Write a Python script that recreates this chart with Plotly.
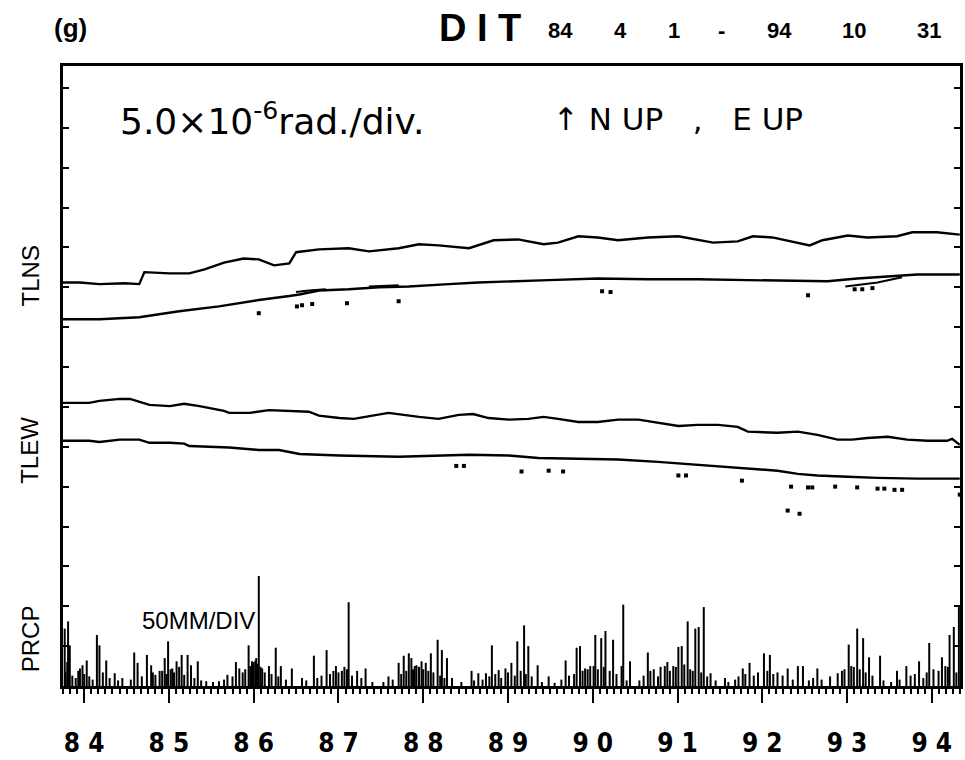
import plotly.graph_objects as go

# ---------------- data (decimal year, tilt in micro-radian, precipitation in mm) -------------
NS1_T = [1984.25, 1984.45, 1984.68, 1984.98, 1985.15, 1985.21, 1985.51, 1985.74, 1985.92, 1986.15,
         1986.38, 1986.56, 1986.74, 1986.92, 1987.00, 1987.27, 1987.62, 1987.86, 1988.21, 1988.45,
         1988.68, 1989.04, 1989.33, 1989.62, 1989.92, 1990.09, 1990.33, 1990.56, 1990.80, 1991.15,
         1991.51, 1991.74, 1991.92, 1992.21, 1992.39, 1992.62, 1992.92, 1993.06, 1993.21, 1993.51,
         1993.74, 1994.09, 1994.27, 1994.56, 1994.83]
NS1_V = [40.6, 40.6, 40.4, 40.5, 40.4, 41.9, 41.75, 41.75, 42.25, 43.1,
         43.6, 43.5, 42.75, 43.0, 44.4, 44.75, 44.9, 44.5, 44.9, 45.4,
         45.25, 44.9, 45.9, 46.0, 45.4, 45.6, 46.4, 46.25, 45.9, 46.25,
         46.4, 46.0, 45.6, 45.75, 46.4, 46.25, 45.6, 45.25, 45.9, 46.5,
         46.25, 46.4, 46.9, 46.9, 46.6]

NS2_T = [1984.25, 1984.68, 1985.15, 1985.62, 1986.09, 1986.56, 1986.92, 1987.04, 1987.27, 1987.62,
         1987.98, 1988.33, 1988.80, 1989.15, 1989.98, 1990.56, 1991.15, 1991.74, 1992.33, 1992.92,
         1993.27, 1993.62, 1994.09, 1994.33, 1994.83]
NS2_V = [36.0, 36.0, 36.25, 37.0, 37.6, 38.4, 38.9, 39.1, 39.6, 39.75,
         40.0, 40.1, 40.4, 40.6, 40.9, 41.1, 41.0, 41.0, 40.9, 40.75,
         40.75, 41.1, 41.4, 41.6, 41.6]

# short offset branches of the NS lower trace
NS2B_T = [1987.00, 1987.15, 1987.35, None, 1987.86, 1988.21, None, 1993.48, 1993.86, 1994.15]
NS2B_V = [39.4, 39.6, 39.75, None, 40.1, 40.25, None, 40.1, 40.6, 41.25]

NS_DOT_T = [1986.56, 1987.01, 1987.07, 1987.19, 1987.60, 1988.21, 1990.61, 1990.71, 1993.04,
            1993.59, 1993.68, 1993.80]
NS_DOT_V = [36.75, 37.6, 37.75, 37.9, 38.0, 38.25, 39.5, 39.4, 39.0,
            39.75, 39.75, 39.9]

EW1_T = [1984.25, 1984.56, 1984.68, 1984.92, 1985.04, 1985.15, 1985.27, 1985.51, 1985.68, 1985.86,
         1986.15, 1986.21, 1986.45, 1986.68, 1986.92, 1987.15, 1987.27, 1987.51, 1987.68, 1987.98,
         1988.09, 1988.45, 1988.68, 1988.92, 1989.09, 1989.27, 1989.51, 1989.74, 1989.92, 1990.09,
         1990.33, 1990.56, 1990.80, 1991.04, 1991.27, 1991.51, 1991.74, 1991.98, 1992.21, 1992.33,
         1992.68, 1992.92, 1993.15, 1993.39, 1993.56, 1993.74, 1993.98, 1994.21, 1994.45, 1994.68,
         1994.74, 1994.83]
EW1_V = [25.5, 25.5, 25.75, 26.0, 26.0, 25.6, 25.25, 25.1, 25.4, 25.1,
         24.5, 24.25, 24.25, 24.6, 24.5, 24.4, 23.9, 23.6, 23.5, 24.1,
         24.25, 23.75, 23.5, 24.0, 24.1, 23.6, 23.4, 23.5, 23.75, 23.5,
         23.1, 23.1, 23.4, 23.4, 23.0, 22.6, 22.75, 22.75, 22.5, 21.9,
         21.75, 21.9, 21.5, 20.9, 20.9, 21.1, 21.25, 20.9, 20.75, 20.75,
         21.0, 20.25]

EW2_T = [1984.25, 1984.56, 1984.68, 1984.92, 1985.15, 1985.27, 1985.51, 1985.68, 1985.74, 1985.98,
         1986.21, 1986.56, 1986.80, 1987.04, 1987.27, 1987.51, 1988.21, 1988.68, 1989.04, 1989.51,
         1989.86, 1990.33, 1990.80, 1991.27, 1991.74, 1992.21, 1992.68, 1992.92, 1993.15, 1993.51,
         1993.86, 1994.33, 1994.83]
EW2_V = [20.75, 20.75, 20.6, 20.9, 20.9, 20.5, 20.5, 20.4, 20.1, 20.0,
         19.9, 19.6, 19.6, 19.1, 19.0, 18.9, 18.75, 18.9, 19.0, 18.9,
         18.6, 18.5, 18.4, 18.1, 17.75, 17.4, 17.0, 16.6, 16.4, 16.25,
         16.1, 16.0, 16.0]

EW_DOT_T = [1988.89, 1988.98, 1989.66, 1989.98, 1990.15, 1991.51, 1991.60, 1992.26, 1992.84,
            1993.04, 1993.09, 1993.36, 1993.62, 1993.86, 1993.94, 1994.06, 1994.15, 1992.80,
            1992.94, 1994.83]
EW_DOT_V = [17.6, 17.6, 16.9, 17.0, 16.9, 16.4, 16.4, 15.75, 15.0,
            14.9, 14.9, 15.0, 14.9, 14.75, 14.75, 14.6, 14.6, 12.0,
            11.6, 14.0]

PRCP_T = [1984.27, 1984.31, 1984.33, 1984.45, 1984.48, 1984.53, 1984.65, 1984.68, 1984.76, 1984.86,
          1984.95, 1985.09, 1985.13, 1985.24, 1985.29, 1985.39, 1985.45, 1985.49, 1985.54, 1985.59,
          1985.65, 1985.72, 1985.76, 1985.84, 1985.94, 1986.09, 1986.19, 1986.29, 1986.33, 1986.44,
          1986.48, 1986.53, 1986.56, 1986.60, 1986.68, 1986.76, 1986.82, 1986.95, 1987.07, 1987.21,
          1987.36, 1987.47, 1987.54, 1987.62, 1987.72, 1987.82, 1988.09, 1988.21, 1988.27, 1988.33,
          1988.36, 1988.42, 1988.48, 1988.53, 1988.59, 1988.67, 1988.72, 1988.78, 1988.84, 1989.07,
          1989.15, 1989.24, 1989.31, 1989.39, 1989.47, 1989.54, 1989.61, 1989.69, 1989.74, 1989.85,
          1989.98, 1990.18, 1990.31, 1990.35, 1990.41, 1990.51, 1990.53, 1990.60, 1990.65, 1990.74,
          1990.84, 1990.86, 1990.94, 1991.15, 1991.27, 1991.41, 1991.51, 1991.55, 1991.62, 1991.71,
          1991.75, 1991.81, 1991.89, 1992.06, 1992.27, 1992.35, 1992.52, 1992.59, 1992.80, 1992.92,
          1992.98, 1993.15, 1993.39, 1993.52, 1993.62, 1993.69, 1993.76, 1993.89, 1994.09, 1994.20,
          1994.35, 1994.47, 1994.62, 1994.71, 1994.76, 1994.82]
PRCP_MM = [72, 81, 51, 22, 26, 32, 64, 51, 32, 16,
           10, 42, 29, 39, 26, 19, 35, 56, 22, 31,
           39, 39, 26, 31, 6, 6, 14, 30, 22, 51,
           31, 35, 138, 22, 25, 48, 25, 22, 10, 38,
           45, 25, 19, 105, 19, 22, 12, 29, 38, 41,
           35, 26, 31, 29, 41, 58, 45, 35, 10, 19,
           16, 16, 51, 20, 22, 29, 56, 76, 50, 26,
           12, 32, 48, 50, 22, 25, 64, 60, 69, 58,
           25, 102, 31, 42, 12, 19, 49, 50, 81, 72,
           74, 99, 16, 10, 22, 29, 41, 39, 22, 25,
           25, 22, 16, 52, 72, 60, 36, 38, 19, 25,
           31, 54, 36, 64, 74, 99]

# smaller daily amounts forming the dense base of the record
PRCP2_T = [1984.28, 1984.30, 1984.36, 1984.40, 1984.43, 1984.50, 1984.56, 1984.60, 1984.72, 1984.80, 1984.90,
           1985.05, 1985.18, 1985.31, 1985.34, 1985.42, 1985.47, 1985.52, 1985.56, 1985.62, 1985.68, 1985.80, 1985.88,
           1986.02, 1986.15, 1986.25, 1986.37, 1986.40, 1986.46, 1986.50, 1986.52, 1986.55, 1986.58, 1986.63, 1986.71,
           1986.79, 1986.88,
           1987.12, 1987.25, 1987.30, 1987.40, 1987.44, 1987.50, 1987.57, 1987.60, 1987.66, 1987.77, 1987.90,
           1988.03, 1988.14, 1988.24, 1988.30, 1988.38, 1988.40, 1988.45, 1988.50, 1988.56, 1988.62, 1988.70,
           1988.75, 1988.95,
           1989.10, 1989.20, 1989.28, 1989.35, 1989.42, 1989.50, 1989.58, 1989.65, 1989.71, 1989.78, 1989.90,
           1990.05, 1990.13, 1990.22, 1990.28, 1990.38, 1990.44, 1990.47, 1990.56, 1990.63, 1990.70, 1990.78, 1990.90,
           1991.05, 1991.10, 1991.18, 1991.22, 1991.30, 1991.35, 1991.38, 1991.45, 1991.48, 1991.58, 1991.65, 1991.68,
           1991.78, 1991.85, 1991.95,
           1992.10, 1992.18, 1992.22, 1992.30, 1992.40, 1992.45, 1992.56, 1992.63, 1992.68, 1992.74, 1992.86,
           1993.05, 1993.10, 1993.20, 1993.30, 1993.44, 1993.47, 1993.55, 1993.58, 1993.65, 1993.72, 1993.80, 1993.93,
           1994.02, 1994.12, 1994.25, 1994.30, 1994.40, 1994.44, 1994.52, 1994.58, 1994.66, 1994.69, 1994.79]
PRCP2_MM = [18, 30, 13, 10, 19, 15, 12, 8, 17, 10, 7,
            8, 12, 17, 14, 19, 15, 21, 17, 24, 14, 10, 7,
            5, 8, 12, 17, 21, 25, 30, 32, 28, 24, 17, 15,
            12, 8,
            7, 10, 13, 15, 19, 17, 24, 21, 13, 10, 5,
            5, 8, 15, 19, 21, 25, 24, 21, 19, 17, 13,
            10, 5,
            7, 8, 12, 15, 10, 17, 13, 19, 15, 12, 5,
            4, 8, 13, 15, 19, 21, 25, 21, 24, 19, 15, 7,
            7, 13, 19, 21, 24, 25, 30, 25, 24, 27, 21, 19,
            17, 12, 7,
            5, 8, 12, 15, 13, 17, 19, 15, 17, 13, 8,
            7, 10, 8, 12, 19, 21, 25, 24, 21, 17, 13, 7,
            5, 8, 13, 15, 10, 17, 21, 19, 25, 24, 17]

YEAR_TICKS = list(range(1985, 1995))
LABEL_POS = [1984.5, 1985.5, 1986.5, 1987.5, 1988.5, 1989.5, 1990.5, 1991.5, 1992.5, 1993.5, 1994.5]
LABEL_TXT = ["8 4", "8 5", "8 6", "8 7", "8 8", "8 9", "9 0", "9 1", "9 2", "9 3", "9 4"]
HEADER_TOKENS = ["84", "4", "1", "-", "94", "10", "31"]

T_START, T_END = 1984.25, 1994.833
TILT_RANGE = [-10, 67.75]      # micro-radian (5 per division)
PRCP_RANGE = [0, 777.5]        # mm (50 per division)

# ---------------- figure -----------------
fig = go.Figure()
INK = "#000000"

def add_line(t, v, w=2.4):
    fig.add_trace(go.Scatter(x=t, y=v, mode="lines", line=dict(color=INK, width=w),
                             hoverinfo="skip", showlegend=False, connectgaps=False))

add_line(NS1_T, NS1_V)
add_line(NS2_T, NS2_V)
add_line(NS2B_T, NS2B_V, 2.0)
add_line(EW1_T, EW1_V)
add_line(EW2_T, EW2_V)

fig.add_trace(go.Scatter(x=NS_DOT_T + EW_DOT_T, y=NS_DOT_V + EW_DOT_V, mode="markers",
                         marker=dict(color=INK, size=4, symbol="square"),
                         hoverinfo="skip", showlegend=False))

px, py = [], []
for t, m in zip(PRCP_T + PRCP2_T, PRCP_MM + PRCP2_MM):
    px += [t, t, None]
    py += [0, m, None]
fig.add_trace(go.Scatter(x=px, y=py, mode="lines", line=dict(color=INK, width=2),
                         yaxis="y2", hoverinfo="skip", showlegend=False))

LABEL_FONT = dict(family="Liberation Sans Narrow, DejaVu Sans Condensed, Liberation Sans, Arial",
                  size=26, color=INK, weight="bold")

fig.update_layout(
    width=965, height=760, autosize=False,
    margin=dict(l=63, r=2, t=66, b=72, pad=0),
    paper_bgcolor="white", plot_bgcolor="white",
    showlegend=False,
    xaxis=dict(range=[T_START, T_END], showgrid=False, zeroline=False,
               showline=True, linewidth=2.5, linecolor=INK, mirror=True,
               tickmode="array", tickvals=LABEL_POS, ticktext=LABEL_TXT,
               ticks="outside", ticklen=14, tickwidth=2, tickcolor=INK,
               tickfont=LABEL_FONT, ticklabelstandoff=18,
               minor=dict(ticks="outside", ticklen=5, tickwidth=1.5, tickcolor=INK,
                          dtick=1 / 12, tick0=1985)),
    xaxis2=dict(range=[T_START, T_END], overlaying="x", side="top", anchor="y",
                showgrid=False, zeroline=False, showline=False, showticklabels=False,
                tickmode="array", tickvals=YEAR_TICKS,
                ticks="inside", ticklen=18, tickwidth=2, tickcolor=INK,
                minor=dict(ticks="inside", ticklen=5, tickwidth=1.5, tickcolor=INK,
                           dtick=1 / 12, tick0=1985)),
    xaxis3=dict(range=[T_START, T_END], overlaying="x", side="bottom", anchor="y",
                showgrid=False, zeroline=False, showline=False, showticklabels=False,
                tickmode="array", tickvals=YEAR_TICKS,
                ticks="outside", ticklen=21, tickwidth=2, tickcolor=INK,
                minor=dict(ticks="inside", ticklen=4, tickwidth=1.5, tickcolor=INK,
                           dtick=1 / 12, tick0=1985)),
    yaxis=dict(range=TILT_RANGE, showgrid=False, zeroline=False,
               showline=True, linewidth=2.5, linecolor=INK, mirror="ticks",
               tickmode="array", tickvals=list(range(-5, 70, 5)),
               ticks="inside", ticklen=6, tickwidth=2, tickcolor=INK,
               showticklabels=False),
    yaxis2=dict(range=PRCP_RANGE, overlaying="y", side="left", anchor="x",
                showgrid=False, zeroline=False, showline=False,
                showticklabels=False, ticks=""),
)

TXT = "Liberation Sans, Arial, sans-serif"
WIDE = "DejaVu Sans, Liberation Sans, sans-serif"

def note(x, y, text, size, bold=False, angle=0, xanchor="center", family=TXT):
    fig.add_annotation(xref="paper", yref="paper", x=x, y=y, text=text, showarrow=False,
                       xanchor=xanchor, yanchor="middle", textangle=angle,
                       font=dict(family=family, size=size, color=INK,
                                 weight="bold" if bold else "normal"))

def PX(x):
    return (x - 63) / 900.0

def PY(y):
    return (688 - y) / 622.0

note(PX(71), PY(28), "(g)", 26, bold=True)
note(PX(481), PY(28), "D I T", 38, bold=True)
for tok, cx in zip(HEADER_TOKENS, [562, 622, 676, 724, 782, 857, 932]):
    note(PX(cx), PY(30), tok, 22, bold=True)
note(PX(118), PY(119), "5.0×10<sup>-6</sup>rad./div.", 36, xanchor="left", family=WIDE)
note(PX(553), PY(119), "↑ N UP&nbsp;&nbsp; ,&nbsp;&nbsp; E UP", 31, xanchor="left", family=WIDE)
note(PX(140), PY(622), "50MM/DIV", 24, xanchor="left")
note(PX(30), PY(277), "TLNS", 24, angle=-90)
note(PX(30), PY(452), "TLEW", 24, angle=-90)
note(PX(30), PY(641), "PRCP", 24, angle=-90)

fig.write_html("out.html",
               config={"displayModeBar": False},
               post_script="document.body.style.margin='0';"
                           "document.documentElement.style.overflow='hidden';")
